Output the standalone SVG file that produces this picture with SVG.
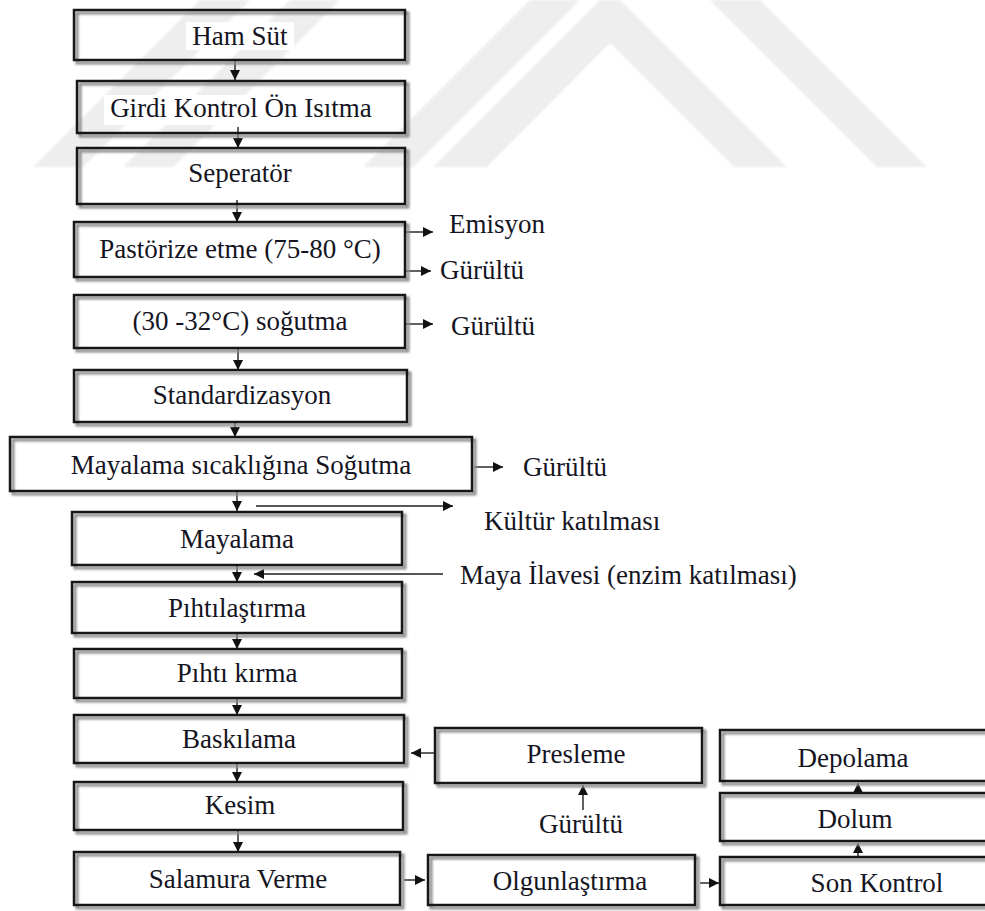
<svg xmlns="http://www.w3.org/2000/svg" width="985" height="911" viewBox="0 0 985 911">
<defs>
<style>
.wm{fill:#eeeeee}
.sh{fill:none;stroke:#8c8c8c;stroke-width:3;filter:url(#blur)}
.bx{fill:none;stroke:#161616;stroke-width:2.5}
.lb{font-family:"Liberation Serif","Times New Roman",serif;font-size:27px;fill:#15151f;text-anchor:middle}
.fr{font-family:"Liberation Serif","Times New Roman",serif;font-size:27px;fill:#15151f}
.bg{fill:#ffffff}
.cn{stroke:#1e1e1e;stroke-width:1.4;fill:none;marker-end:url(#ah)}
</style>
<filter id="blur" x="-5%" y="-20%" width="110%" height="140%"><feGaussianBlur stdDeviation="0.9"/></filter>
<filter id="wmblur"><feGaussianBlur stdDeviation="1.2"/></filter>
<marker id="ah" markerUnits="userSpaceOnUse" markerWidth="11" markerHeight="10" refX="10" refY="5" orient="auto">
<path d="M0,0 L10,5 L0,10 Z" fill="#111"/>
</marker>
</defs>
<rect width="985" height="911" fill="#ffffff"/>
<g id="watermark" filter="url(#wmblur)">
<polygon class="wm" points="33,167 200,0 250,0 83,167"/>
<polygon class="wm" points="123,167 290,0 340,0 173,167"/>
<polygon class="wm" points="363,167 530,0 580,0 413,167"/>
<polygon class="wm" points="433,167 600,0 620,0 787,167 734,167 610,43 487,167"/>
<polygon class="wm" points="710,0 760,0 927,167 877,167"/>
</g>
<g id="connectors">
<line class="cn" x1="235" y1="60" x2="235" y2="80"/>
<line class="cn" x1="238" y1="127" x2="238" y2="148"/>
<line class="cn" x1="237" y1="200" x2="237" y2="222"/>
<line class="cn" x1="406" y1="232" x2="433" y2="232"/>
<line class="cn" x1="406" y1="271" x2="431" y2="271"/>
<line class="cn" x1="406" y1="324" x2="433" y2="324"/>
<line class="cn" x1="238" y1="348" x2="238" y2="370"/>
<line class="cn" x1="235" y1="422" x2="235" y2="437"/>
<line class="cn" x1="474" y1="467" x2="503" y2="467"/>
<line class="cn" x1="237" y1="491" x2="237" y2="511"/>
<line class="cn" x1="256" y1="506" x2="453" y2="506"/>
<line class="cn" x1="443" y1="574" x2="254" y2="574"/>
<line class="cn" x1="237" y1="565" x2="237" y2="582"/>
<line class="cn" x1="237" y1="633" x2="237" y2="649"/>
<line class="cn" x1="237" y1="698" x2="237" y2="715"/>
<line class="cn" x1="237" y1="763" x2="237" y2="782"/>
<line class="cn" x1="434" y1="753" x2="411" y2="753"/>
<line class="cn" x1="238" y1="830" x2="238" y2="852"/>
<line class="cn" x1="404" y1="880" x2="425" y2="880"/>
<line class="cn" x1="700" y1="883" x2="719" y2="883"/>
<line class="cn" x1="858" y1="857" x2="858" y2="843"/>
<line class="cn" x1="858" y1="793" x2="858" y2="783"/>
<line class="cn" x1="583" y1="810" x2="583" y2="785"/>
</g>
<g id="n1"><rect class="sh" x="77" y="13" width="331" height="50"/><rect class="bx" x="74" y="10" width="331" height="50"/><rect class="bg" x="186" y="22" width="108" height="28"/><text class="lb" x="240" y="45">Ham Süt</text></g>
<g id="n2"><rect class="sh" x="80" y="84" width="328" height="52"/><rect class="bx" x="77" y="81" width="328" height="52"/><rect class="bg" x="104" y="95" width="274" height="30"/><text class="lb" x="241" y="117">Girdi Kontrol Ön Isıtma</text></g>
<g id="n3"><rect class="sh" x="80" y="151" width="328" height="56"/><rect class="bx" x="77" y="148" width="328" height="56"/><text class="lb" x="240" y="182">Seperatör</text></g>
<g id="n4"><rect class="sh" x="77" y="225" width="331" height="55"/><rect class="bx" x="74" y="222" width="331" height="55"/><text class="lb" x="240" y="258">Pastörize etme (75-80 °C)</text></g>
<g id="n5"><rect class="sh" x="77" y="298" width="331" height="53"/><rect class="bx" x="74" y="295" width="331" height="53"/><text class="lb" x="240" y="330">(30 -32°C) soğutma</text></g>
<g id="n6"><rect class="sh" x="77" y="373" width="333" height="52"/><rect class="bx" x="74" y="370" width="333" height="52"/><text class="lb" x="242" y="404">Standardizasyon</text></g>
<g id="n7"><rect class="sh" x="13" y="440" width="462" height="54"/><rect class="bx" x="10" y="437" width="462" height="54"/><text class="lb" x="241" y="474">Mayalama sıcaklığına Soğutma</text></g>
<g id="n8"><rect class="sh" x="75" y="515" width="330" height="53"/><rect class="bx" x="72" y="512" width="330" height="53"/><text class="lb" x="237" y="548">Mayalama</text></g>
<g id="n9"><rect class="sh" x="75" y="585" width="330" height="51"/><rect class="bx" x="72" y="582" width="330" height="51"/><text class="lb" x="237" y="617">Pıhtılaştırma</text></g>
<g id="n10"><rect class="sh" x="77" y="652" width="328" height="49"/><rect class="bx" x="74" y="649" width="328" height="49"/><text class="lb" x="237" y="682">Pıhtı kırma</text></g>
<g id="n11"><rect class="sh" x="77" y="718" width="330" height="48"/><rect class="bx" x="74" y="715" width="330" height="48"/><text class="lb" x="239" y="748">Baskılama</text></g>
<g id="n12"><rect class="sh" x="77" y="785" width="329" height="48"/><rect class="bx" x="74" y="782" width="329" height="48"/><text class="lb" x="240" y="814">Kesim</text></g>
<g id="n13"><rect class="sh" x="77" y="855" width="326" height="53"/><rect class="bx" x="74" y="852" width="326" height="53"/><text class="lb" x="238" y="888">Salamura Verme</text></g>
<g id="n14"><rect class="sh" x="438" y="731" width="267" height="55"/><rect class="bx" x="435" y="728" width="267" height="55"/><text class="lb" x="576" y="763">Presleme</text></g>
<g id="n15"><rect class="sh" x="431" y="858" width="267" height="50"/><rect class="bx" x="428" y="855" width="267" height="50"/><text class="lb" x="570" y="890">Olgunlaştırma</text></g>
<g id="n16"><rect class="sh" x="723" y="860" width="270" height="48"/><rect class="bx" x="720" y="857" width="270" height="48"/><text class="lb" x="877" y="892">Son Kontrol</text></g>
<g id="n17"><rect class="sh" x="723" y="796" width="270" height="48"/><rect class="bx" x="720" y="793" width="270" height="48"/><text class="lb" x="855" y="828">Dolum</text></g>
<g id="n18"><rect class="sh" x="723" y="733" width="270" height="51"/><rect class="bx" x="720" y="730" width="270" height="51"/><text class="lb" x="853" y="767">Depolama</text></g>
<g id="labels">
<text class="fr" x="449" y="233">Emisyon</text>
<text class="fr" x="440" y="279">Gürültü</text>
<text class="fr" x="451" y="335">Gürültü</text>
<text class="fr" x="523" y="476">Gürültü</text>
<text class="fr" x="484" y="530">Kültür katılması</text>
<text class="fr" x="460" y="584">Maya İlavesi (enzim katılması)</text>
<text class="fr" x="539" y="833">Gürültü</text>
</g>
</svg>
